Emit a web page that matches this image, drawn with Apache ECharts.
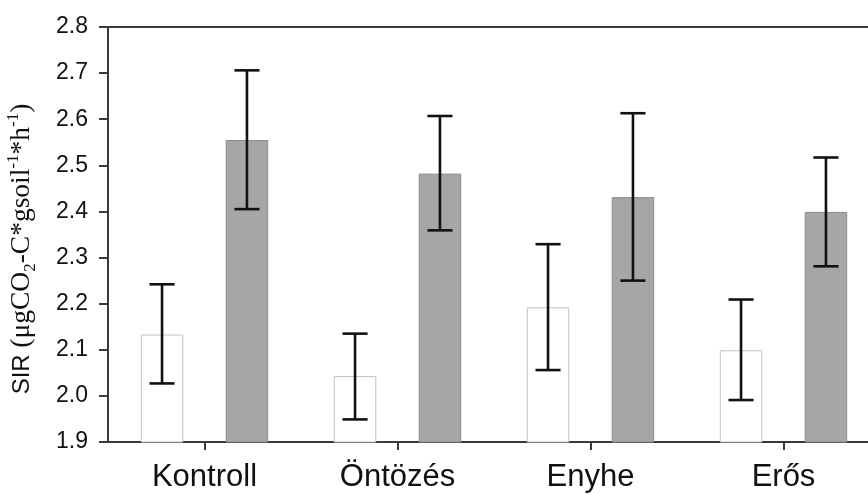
<!DOCTYPE html>
<html>
<head>
<meta charset="utf-8">
<script src="https://cdn.jsdelivr.net/npm/echarts@6/dist/echarts.min.js"></script>
<style>
  html, body { margin: 0; padding: 0; background: #fff; }
  #chart { width: 868px; height: 495px; }
</style>
</head>
<body>
<div id="chart"></div>
<script>
// Treatment groups along the x axis
const categories = ['Kontroll', 'Öntözés', 'Enyhe', 'Erős'];

// Open (white) bars: means and error-bar limits
const whiteMeans = [2.133, 2.043, 2.192, 2.099];
const whiteLow   = [2.027, 1.949, 2.056, 1.991];
const whiteHigh  = [2.242, 2.135, 2.329, 2.209];

// Grey bars: means and error-bar limits
const greyMeans = [2.555, 2.482, 2.431, 2.399];
const greyLow   = [2.405, 2.359, 2.250, 2.281];
const greyHigh  = [2.706, 2.607, 2.613, 2.517];

// Value axis range
const yMin = 1.9;
const yMax = 2.8;
const yStep = 0.1;

const BAR_FRAC = 0.22;   // bar width as a share of the category band
const AXIS_COLOR = '#3a3a3a';

function errorBars(name, low, high, side) {
  return {
    name: name,
    type: 'custom',
    z: 10,
    xAxisIndex: 0,
    encode: { x: 0, y: [1, 2] },
    data: categories.map((c, i) => [i, low[i], high[i]]),
    renderItem: function (params, api) {
      const band = api.size([1, 0])[0];
      const x0 = api.coord([api.value(0), api.value(1)]);
      const x1 = api.coord([api.value(0), api.value(2)]);
      const x = x0[0] + side * band * BAR_FRAC;
      const half = band * 0.065;
      const st = { stroke: '#111', lineWidth: 2.6 };
      return {
        type: 'group',
        children: [
          { type: 'line', shape: { x1: x, y1: x0[1], x2: x, y2: x1[1] }, style: st },
          { type: 'line', shape: { x1: x - half, y1: x0[1], x2: x + half, y2: x0[1] }, style: st },
          { type: 'line', shape: { x1: x - half, y1: x1[1], x2: x + half, y2: x1[1] }, style: st }
        ]
      };
    }
  };
}

const chart = echarts.init(document.getElementById('chart'), null, { renderer: 'canvas' });

chart.setOption({
  animation: false,
  backgroundColor: '#fff',
  grid: {
    left: 108, top: 27, width: 772, bottom: 53,
    outerBoundsMode: 'none',
    containLabel: false,
    show: false
  },
  xAxis: [{
    type: 'category',
    data: categories,
    axisLine: { show: true, lineStyle: { color: AXIS_COLOR, width: 2 } },
    axisTick: { show: true, alignWithLabel: true, length: 8, lineStyle: { color: AXIS_COLOR, width: 2 } },
    axisLabel: { color: '#111', fontFamily: 'Liberation Sans, Arial, sans-serif', fontSize: 31, margin: 20 },
    splitLine: { show: false }
  }, {
    // top frame line
    type: 'category',
    data: categories,
    position: 'top',
    axisLine: { show: true, lineStyle: { color: AXIS_COLOR, width: 2 } },
    axisTick: { show: false },
    axisLabel: { show: false },
    splitLine: { show: false }
  }],
  yAxis: {
    type: 'value',
    min: yMin, max: yMax, interval: yStep,
    axisLine: { show: true, lineStyle: { color: AXIS_COLOR, width: 2 } },
    axisTick: { show: true, length: 9, lineStyle: { color: AXIS_COLOR, width: 2 } },
    axisLabel: {
      color: '#111', fontFamily: 'Liberation Sans, Arial, sans-serif', fontSize: 23, margin: 20,
      formatter: v => v.toFixed(1)
    },
    splitLine: { show: false }
  },
  graphic: [{
    type: 'text',
    x: 22, y: 249,
    rotation: Math.PI / 2,
    style: {
      text: '{s|SIR }{t|(μgCO}{sub|2}{t|-C*gsoil}{sup|-1}{t|*h}{sup|-1}{t|)}',
      align: 'center', verticalAlign: 'middle',
      fill: '#111',
      rich: {
        s: { fontFamily: 'Liberation Sans, Arial, sans-serif', fontSize: 24, fill: '#111', lineHeight: 34 },
        t: { fontFamily: 'Liberation Serif, Times New Roman, serif', fontSize: 27.5, fill: '#111', lineHeight: 34 },
        sub: { fontFamily: 'Liberation Serif, Times New Roman, serif', fontSize: 17, fill: '#111', verticalAlign: 'bottom', lineHeight: 34 },
        sup: { fontFamily: 'Liberation Serif, Times New Roman, serif', fontSize: 17, fill: '#111', verticalAlign: 'top', lineHeight: 34 }
      }
    }
  }],
  series: [
    {
      name: 'white',
      type: 'bar',
      data: whiteMeans,
      barWidth: (BAR_FRAC * 100) + '%',
      barGap: '100%',
      itemStyle: { color: '#fff', borderColor: '#c4c4c4', borderWidth: 1 }
    },
    {
      name: 'grey',
      type: 'bar',
      data: greyMeans,
      barWidth: (BAR_FRAC * 100) + '%',
      barGap: '100%',
      itemStyle: { color: '#a6a6a6', borderColor: '#8a8a8a', borderWidth: 1 }
    },
    errorBars('whiteErr', whiteLow, whiteHigh, -1),
    errorBars('greyErr', greyLow, greyHigh, 1)
  ]
});
</script>
</body>
</html>
